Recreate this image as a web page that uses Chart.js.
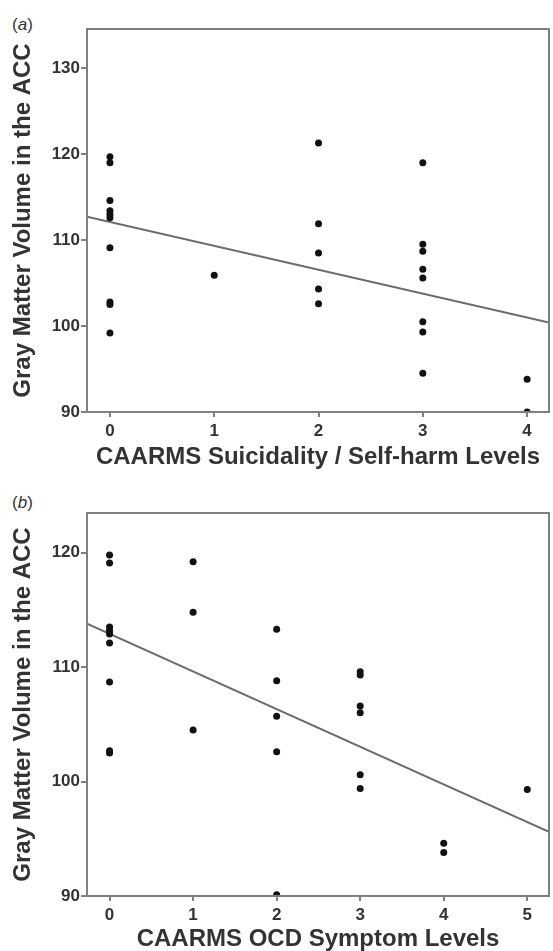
<!DOCTYPE html>
<html>
<head>
<meta charset="utf-8">
<script src="https://cdn.jsdelivr.net/npm/chart.js@4/dist/chart.umd.min.js"></script>
<style>
  body { margin: 0; background: #fff; }
  #wrap { position: relative; width: 553px; height: 951px; overflow: hidden; }
  .panel { position: absolute; left: 0; }
  .tag { position: absolute; left: 12px; font: 17px "Liberation Sans", Arial, sans-serif; color: #333; line-height: 17px; }
</style>
</head>
<body>
<div id="wrap">
  <div class="tag" style="top:16px">(<i>a</i>)</div>
  <div class="panel" style="top:0"><canvas id="chartA" width="553" height="469"></canvas></div>
  <div class="tag" style="top:494px">(<i>b</i>)</div>
  <div class="panel" style="top:469px"><canvas id="chartB" width="553" height="482"></canvas></div>
</div>
<script>
// panel (a): suicidality level vs gray matter volume
const suicX = [0,0,0,0,0,0,0,0,0,0, 1, 2,2,2,2,2, 3,3,3,3,3,3,3,3, 4,4];
const gmvA = [119.7,119.0,114.6,113.4,113.0,112.6,109.1,102.8,102.5,99.2,
              105.9,
              121.3,111.9,108.5,104.3,102.6,
              119.0,109.5,108.7,106.6,105.6,100.5,99.3,94.5,
              93.8,90.0];
const fitAx = [-0.22, 4.21];
const fitAy = [112.7, 100.4];
const xTicksA = [0,1,2,3,4];
const yTicksA = [90,100,110,120,130];

// panel (b): OCD symptom level vs gray matter volume
const ocdX = [0,0,0,0,0,0,0,0,0, 1,1,1, 2,2,2,2,2, 3,3,3,3,3,3, 4,4, 5];
const gmvB = [119.8,119.1,113.5,113.2,112.9,112.1,108.7,102.7,102.5,
              119.2,114.8,104.5,
              113.3,108.8,105.7,102.6,90.1,
              109.6,109.3,106.6,106.0,100.6,99.4,
              94.6,93.8,
              99.3];
const fitBx = [-0.27, 5.26];
const fitBy = [113.8, 95.6];
const xTicksB = [0,1,2,3,4,5];
const yTicksB = [90,100,110,120];

const FONT = '"Liberation Sans", Arial, sans-serif';
const AXIS_GREY = '#808080';

// top + right frame lines of the plot box
const frame = {
    id: 'frame',
    afterDraw(chart){
        const a = chart.chartArea;
        const ctx = chart.ctx;
        ctx.save();
        ctx.strokeStyle = AXIS_GREY;
        ctx.lineWidth = 2;
        ctx.beginPath();
        ctx.moveTo(a.left, a.bottom);
        ctx.lineTo(a.left, a.top);
        ctx.lineTo(a.right, a.top);
        ctx.lineTo(a.right, a.bottom);
        ctx.lineTo(a.left, a.bottom);
        ctx.stroke();
        ctx.restore();
    }
};

function makeChart(id, xs, ys, fx, fy, xTicks, yTicks, xRange, yRange, xTitle, padTop, xAxisH){
    const pts = xs.map((x, i) => ({x: x, y: ys[i]}));
    const fit = fx.map((x, i) => ({x: x, y: fy[i]}));
    return new Chart(document.getElementById(id), {
        type: 'scatter',
        data: {
            datasets: [
                {
                    data: pts,
                    pointRadius: 3.5,
                    pointBackgroundColor: '#111',
                    pointBorderWidth: 0,
                    clip: 0
                },
                {
                    type: 'line',
                    data: fit,
                    showLine: true,
                    borderColor: '#6b6b6b',
                    borderWidth: 2,
                    pointRadius: 0,
                    clip: 0
                }
            ]
        },
        options: {
            responsive: false,
            animation: false,
            layout: { padding: { top: padTop, right: 1, left: 0, bottom: 0 } },
            plugins: { legend: { display: false }, tooltip: { enabled: false } },
            scales: {
                x: {
                    type: 'linear',
                    min: xRange[0],
                    max: xRange[1],
                    afterBuildTicks: (s) => { s.ticks = xTicks.map(v => ({value: v})); },
                    afterFit: (s) => { s.height = xAxisH; },
                    border: { display: false },
                    grid: { drawOnChartArea: false, drawTicks: true, tickLength: 5, color: AXIS_GREY, lineWidth: 2 },
                    ticks: { color: '#333', padding: 4, font: { family: FONT, size: 17, weight: 'bold' } },
                    title: {
                        display: true,
                        text: xTitle,
                        color: '#333',
                        padding: { top: 0, bottom: 0 },
                        font: { family: FONT, size: 24, weight: 'bold', lineHeight: 1 }
                    }
                },
                y: {
                    min: yRange[0],
                    max: yRange[1],
                    afterBuildTicks: (s) => { s.ticks = yTicks.map(v => ({value: v})); },
                    afterFit: (s) => { s.width = 87; },
                    border: { display: false },
                    grid: { drawOnChartArea: false, drawTicks: true, tickLength: 6, color: AXIS_GREY, lineWidth: 2 },
                    ticks: { color: '#333', padding: 1, font: { family: FONT, size: 17, weight: 'bold' } },
                    title: {
                        display: true,
                        text: 'Gray Matter Volume in the ACC',
                        color: '#333',
                        padding: { top: 11, bottom: 0 },
                        font: { family: FONT, size: 24, weight: 'bold', lineHeight: 1 }
                    }
                }
            }
        },
        plugins: [frame]
    });
}

makeChart('chartA', suicX, gmvA, fitAx, fitAy, xTicksA, yTicksA,
    [-0.22, 4.21], [90, 134.55], 'CAARMS Suicidality / Self-harm Levels', 29, 57);
makeChart('chartB', ocdX, gmvB, fitBx, fitBy, xTicksB, yTicksB,
    [-0.27, 5.26], [90, 123.46], 'CAARMS OCD Symptom Levels', 44, 55);
</script>
</body>
</html>
